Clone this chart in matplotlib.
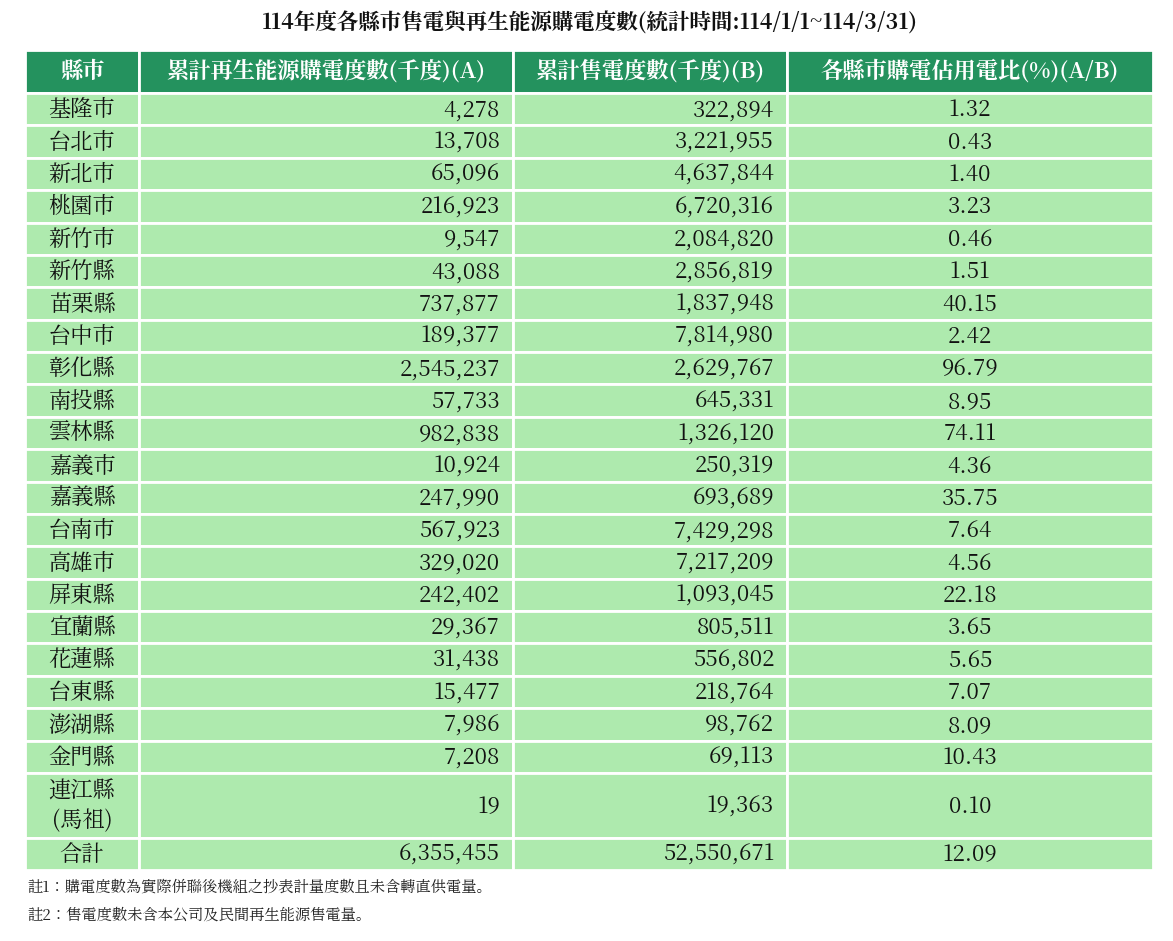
import matplotlib
matplotlib.use("Agg")
import matplotlib.pyplot as plt
from matplotlib import font_manager as fm
from matplotlib.patches import Rectangle

# find a CJK-capable font actually registered
cjk = [f.name for f in fm.fontManager.ttflist if "CJK" in f.name]
pref = [n for n in cjk if "TC" in n] or cjk
if not pref:
    import glob
    for p in glob.glob("/usr/share/fonts/**/*CJK*", recursive=True):
        try:
            fm.fontManager.addfont(p)
        except Exception:
            pass
    cjk = [f.name for f in fm.fontManager.ttflist if "CJK" in f.name]
    pref = [n for n in cjk if "TC" in n] or cjk
plt.rcParams["font.family"] = pref[:1] + ["DejaVu Sans"]

title = "114年度各縣市售電與再生能源購電度數(統計時間:114/1/1~114/3/31)"
headers = ["縣市", "累計再生能源購電度數(千度)(A)", "累計售電度數(千度)(B)", "各縣市購電佔用電比(%)(A/B)"]
counties = ["基隆市", "台北市", "新北市", "桃園市", "新竹市", "新竹縣", "苗栗縣", "台中市",
            "彰化縣", "南投縣", "雲林縣", "嘉義市", "嘉義縣", "台南市", "高雄市", "屏東縣",
            "宜蘭縣", "花蓮縣", "台東縣", "澎湖縣", "金門縣", "連江縣\n(馬祖)", "合計"]
renew = [4278, 13708, 65096, 216923, 9547, 43088, 737877, 189377, 2545237, 57733, 982838,
         10924, 247990, 567923, 329020, 242402, 29367, 31438, 15477, 7986, 7208, 19, 6355455]
sales = [322894, 3221955, 4637844, 6720316, 2084820, 2856819, 1837948, 7814980, 2629767,
         645331, 1326120, 250319, 693689, 7429298, 7217209, 1093045, 805511, 556802, 218764,
         98762, 69113, 19363, 52550671]
ratio = [1.32, 0.43, 1.40, 3.23, 0.46, 1.51, 40.15, 2.42, 96.79, 8.95, 74.11, 4.36, 35.75,
         7.64, 4.56, 22.18, 3.65, 5.65, 7.07, 8.09, 10.43, 0.10, 12.09]
notes = ["註1：購電度數為實際併聯後機組之抄表計量度數且未含轉直供電量。",
         "註2：售電度數未含本公司及民間再生能源售電量。"]

W, H = 1173, 941
fig = plt.figure(figsize=(W / 100, H / 100), dpi=100)
ax = fig.add_axes([0, 0, 1, 1])
ax.set_xlim(0, W)
ax.set_ylim(H, 0)
ax.axis("off")

col_x = [25, 139, 513, 787, 1153]
head_top, head_bot = 50, 93
row_h = (773 - head_bot) / 21
header_c = "#24925e"
cell_c = "#aeeaae"

ax.text(590, 24, title, ha="center", va="center", fontsize=15.5, fontweight="bold", color="#111111")

for i, h in enumerate(headers):
    ax.add_patch(Rectangle((col_x[i], head_top), col_x[i + 1] - col_x[i], head_bot - head_top,
                           fc=header_c, ec="white", lw=2))
    ax.text((col_x[i] + col_x[i + 1]) / 2, (head_top + head_bot) / 2, h, ha="center",
            va="center", fontsize=16, fontweight="bold", color="white")

y = head_bot
for r, name in enumerate(counties):
    h = row_h * 2 if "\n" in name else row_h
    for i in range(4):
        ax.add_patch(Rectangle((col_x[i], y), col_x[i + 1] - col_x[i], h, fc=cell_c, ec="white", lw=2))
    cy = y + h / 2 + 1
    ax.text((col_x[0] + col_x[1]) / 2, cy, name, ha="center", va="center", fontsize=16,
            color="#111111", linespacing=1.3)
    ax.text(col_x[2] - 13, cy, f"{renew[r]:,}", ha="right", va="center", fontsize=16, color="#111111")
    ax.text(col_x[3] - 13, cy, f"{sales[r]:,}", ha="right", va="center", fontsize=16, color="#111111")
    ax.text((col_x[3] + col_x[4]) / 2, cy, f"{ratio[r]:.2f}", ha="center", va="center",
            fontsize=16, color="#111111")
    y += h

for k, n in enumerate(notes):
    ax.text(27, 888 + k * 28, n, ha="left", va="center", fontsize=11, color="#222222")

fig.savefig("out.png", dpi=100, facecolor="white")
